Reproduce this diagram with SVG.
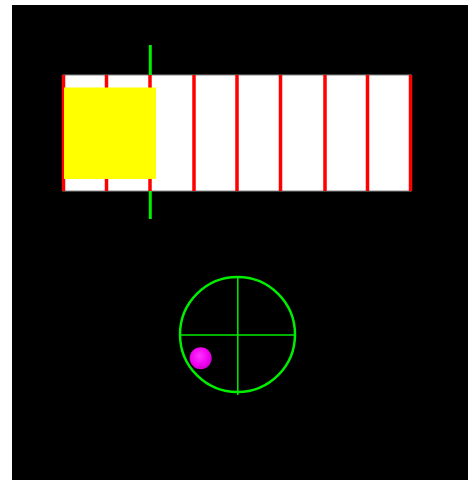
<svg xmlns="http://www.w3.org/2000/svg" width="468" height="480" viewBox="0 0 468 480">
<style>
.tick{stroke:#ff0000;stroke-width:3.5}
.grn{stroke:#00ee00;fill:none}
</style>
<defs>
<radialGradient id="ball" cx="0.45" cy="0.4" r="0.6">
<stop offset="0" stop-color="#ff33ff"/>
<stop offset="0.7" stop-color="#ee00ee"/>
<stop offset="1" stop-color="#cc00cc"/>
</radialGradient>
</defs>
<rect x="0" y="0" width="468" height="480" fill="#ffffff"/>
<rect x="12" y="5" width="456" height="475" fill="#000000"/>
<g id="ruler">
<rect x="63" y="75" width="348" height="116" fill="#ffffff" stroke="#888888" stroke-width="1"/>
<line class="tick" x1="63.5" y1="75" x2="63.5" y2="191"/>
<line class="tick" x1="106.5" y1="75" x2="106.5" y2="191"/>
<line class="tick" x1="150" y1="75" x2="150" y2="191"/>
<line class="tick" x1="194" y1="75" x2="194" y2="191"/>
<line class="tick" x1="237" y1="75" x2="237" y2="191"/>
<line class="tick" x1="280.5" y1="75" x2="280.5" y2="191"/>
<line class="tick" x1="325" y1="75" x2="325" y2="191"/>
<line class="tick" x1="367.5" y1="75" x2="367.5" y2="191"/>
<line class="tick" x1="410.5" y1="75" x2="410.5" y2="191"/>
</g>
<g id="block">
<rect x="64" y="87.5" width="92" height="91.5" fill="#ffff00"/>
</g>
<g id="marker">
<line class="grn" x1="150.3" y1="45" x2="150.3" y2="75" stroke-width="3"/>
<line class="grn" x1="150.3" y1="191" x2="150.3" y2="219" stroke-width="3"/>
</g>
<g id="target">
<circle class="grn" cx="237.5" cy="334.5" r="57.5" stroke-width="2.5"/>
<line class="grn" x1="237.8" y1="277" x2="237.8" y2="395" stroke-width="1.5"/>
<line class="grn" x1="180" y1="335" x2="295" y2="335" stroke-width="1.5"/>
</g>
<g id="ball-node">
<circle cx="200.7" cy="358.3" r="11" fill="url(#ball)"/>
</g>
</svg>
